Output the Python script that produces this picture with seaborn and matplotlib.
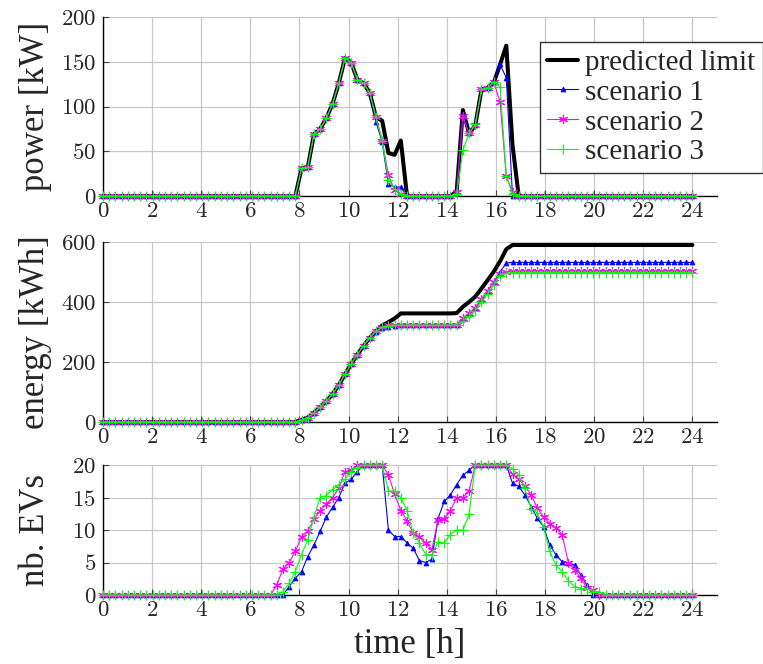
import numpy as np
import matplotlib
matplotlib.use("Agg")
import matplotlib.pyplot as plt
import seaborn as sns

# ---------------- data (96 samples over 0..24 h) ----------------
time_h = np.linspace(0, 24, 96)

first_peak = [31, 32, 69, 75, 87, 103, 126, 154, 149, 130, 126, 115]

power_limit = [0]*32 + first_peak + [88, 84, 48, 46, 62] + [0]*8 + \
    [5, 96, 70, 79, 119, 121, 127, 147, 168, 57] + [0]*29
power_s1 = [0]*32 + first_peak + [83, 60, 13, 10, 10] + [0]*8 + \
    [5, 90, 70, 79, 119, 121, 127, 147, 132, 0] + [0]*29
power_s2 = [0]*32 + first_peak + [88, 62, 23, 7, 2] + [0]*8 + \
    [5, 89, 70, 79, 119, 121, 127, 105, 22, 5] + [0]*29
power_s3 = [0]*32 + first_peak + [88, 62, 18, 8, 2] + [0]*8 + \
    [2, 51, 70, 80, 119, 121, 127, 122, 22, 2] + [0]*29

energy_rise = [7, 15, 31, 49, 69, 93, 123, 159, 194, 225, 254, 281]
energy_limit = [0]*32 + energy_rise + [302, 322, 333, 345, 362] + [362]*8 + \
    [363, 384, 400, 418, 445, 473, 502, 536, 576, 590] + [590]*29
energy_s1 = [0]*32 + energy_rise + [301, 315, 318, 321, 323] + [323]*8 + \
    [324, 345, 361, 380, 408, 436, 466, 501, 530, 532] + [532]*29
energy_s2 = [0]*32 + energy_rise + [302, 317, 322, 324, 324] + [324]*8 + \
    [325, 346, 362, 381, 409, 437, 467, 494, 501, 503] + [503]*29
energy_s3 = [0]*32 + energy_rise + [302, 317, 321, 323, 323] + [323]*8 + \
    [324, 336, 352, 371, 399, 427, 457, 488, 496, 498] + [498]*29

evs_s1 = [0]*30 + [1.3, 2.6, 3.6, 5.9, 7.7, 9.8, 12, 13.5, 15, 17.2, 17.8, 19,
                   20, 20, 20, 20, 10, 9, 9, 8, 7.2, 5.3, 5, 5.5, 11.8, 14.4,
                   15.4, 17, 18.4, 19.2, 20, 20, 20, 20, 20, 20, 17.2, 16.7,
                   15.4, 13.6, 11.8, 10.5, 7.7, 6.2, 5.1, 4.9, 4.6, 3.1, 1.5] + [0]*17
evs_s2 = [0]*28 + [1.5, 4, 5, 6.7, 9, 9.8, 11.7, 13, 14, 15, 16.4, 19, 19.2, 20,
                   20, 20, 20, 20, 18.5, 15.5, 13, 11.4, 9.5, 9, 8, 7, 11.5, 11.7,
                   13, 15, 15, 16, 20, 20, 20, 20, 20, 20, 18.6, 17.8, 16.8, 15.4,
                   13.4, 12, 11, 10.3, 9.3, 5, 3.8, 2.6, 1.1, 0.8] + [0]*16
evs_s3 = [0]*29 + [0.5, 1.8, 3.6, 6.2, 8.5, 12, 15, 15.3, 16.2, 17, 17.8, 19,
                   19.6, 20, 20, 20, 20, 16, 16, 15, 13, 9.5, 8, 6.2, 6.2, 8.2,
                   8, 9.3, 10, 10, 12.4, 20, 20, 20, 20, 20, 20, 19.4, 18.4,
                   16.4, 13.3, 12.6, 10.5, 6.7, 4.6, 3.6, 2.2, 1.3, 1, 1, 0.5,
                   0.5] + [0]*15

series_names = ["predicted limit", "scenario 1", "scenario 2", "scenario 3"]

# ---------------- style ----------------
sns.set_theme(style="whitegrid")
plt.rcParams["font.family"] = ["cmr10", "DejaVu Serif"]
plt.rcParams["axes.formatter.use_mathtext"] = True
plt.rcParams["mathtext.fontset"] = "cm"

LABEL_FONT = ["Liberation Serif", "DejaVu Serif"]
BLUE, MAGENTA, GREEN = "#0000ff", "#ff00ff", "#00ff00"
ASTERISK = (6, 2, 0)

styles = [
    dict(color="black", lw=2.9, marker=None),
    dict(color=BLUE, lw=0.8, marker="^", markersize=3.5, markeredgewidth=0.6,
         markeredgecolor=BLUE, markerfacecolor=BLUE),
    dict(color=MAGENTA, lw=0.8, marker=ASTERISK, markersize=6.5, markeredgewidth=0.8,
         markeredgecolor=MAGENTA, markerfacecolor=MAGENTA),
    dict(color=GREEN, lw=0.8, marker="+", markersize=7.5, markeredgewidth=0.8,
         markeredgecolor=GREEN, markerfacecolor=GREEN),
]

W, H = 763, 664
fig = plt.figure(figsize=(W/100, H/100), dpi=100)

def box(top, bottom):
    return [103/W, 1 - bottom/H, 614/W, (bottom - top)/H]

ax1 = fig.add_axes(box(17, 196))
ax2 = fig.add_axes(box(242, 422))
ax3 = fig.add_axes(box(465, 595))

panels = [
    (ax1, [power_limit, power_s1, power_s2, power_s3], (0, 200), [0, 50, 100, 150, 200], "power [kW]"),
    (ax2, [energy_limit, energy_s1, energy_s2, energy_s3], (0, 600), [0, 200, 400, 600], "energy [kWh]"),
    (ax3, [None, evs_s1, evs_s2, evs_s3], (0, 20), [0, 5, 10, 15, 20], "nb. EVs"),
]

for ax, data, ylim, yticks, ylabel in panels:
    for name, vals, st in zip(series_names, data, styles):
        if vals is None:
            continue
        sns.lineplot(x=time_h, y=vals, ax=ax, label=name, clip_on=False,
                     zorder=3, **st)
    ax.set_xlim(0, 25)
    ax.set_ylim(*ylim)
    ax.set_xticks(range(0, 25, 2))
    ax.set_yticks(yticks)
    ax.grid(True, color="#c8c8c8", lw=0.9)
    ax.set_facecolor("white")
    for s in ["top", "right"]:
        ax.spines[s].set_visible(False)
    for s in ["left", "bottom"]:
        ax.spines[s].set_visible(True)
        ax.spines[s].set_color("black")
        ax.spines[s].set_linewidth(1.0)
    ax.tick_params(axis="both", direction="in", length=4, width=0.8,
                   color="#444444", labelsize=16.5,
                   left=True, bottom=True, top=False, right=False)
    ax.tick_params(axis="y", pad=5)
    ax.tick_params(axis="x", pad=4)
    ax.set_ylabel(ylabel, fontsize=25, family=LABEL_FONT)
    ax.yaxis.set_label_coords(-0.083, 0.5)
    if ax.get_legend() is not None:
        ax.get_legend().remove()

ax3.set_xlabel("time [h]", fontsize=25, family=LABEL_FONT, labelpad=6)

handles, labels = ax1.get_legend_handles_labels()
leg = ax1.legend(handles, labels, loc="upper left",
                 bbox_to_anchor=(540/W, 1 - 42/H), bbox_transform=fig.transFigure,
                 prop={"family": LABEL_FONT, "size": 21}, frameon=True,
                 fancybox=False, framealpha=1, edgecolor="#333333",
                 borderpad=0.25, labelspacing=0.12, handlelength=1.05,
                 handletextpad=0.25, borderaxespad=0)
leg.get_frame().set_linewidth(1.0)

fig.savefig("out.png", dpi=100, facecolor="white")
